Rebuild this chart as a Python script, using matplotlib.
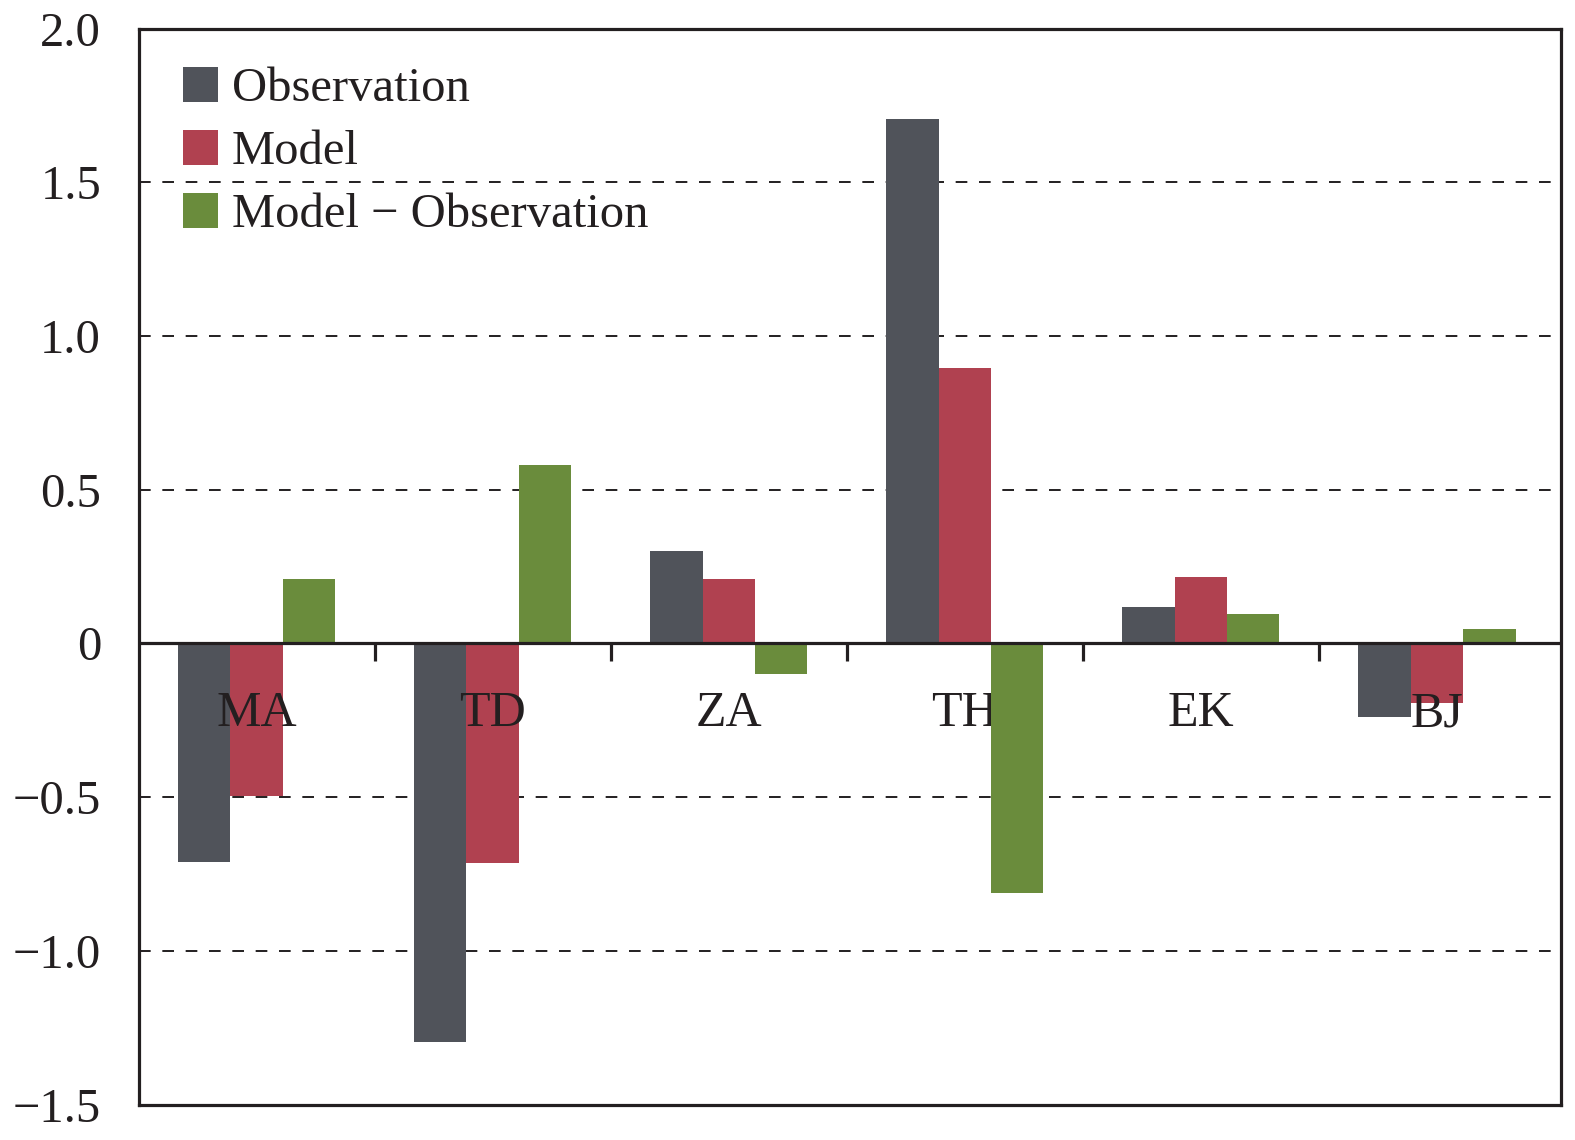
import numpy as np
import matplotlib
matplotlib.use("Agg")
import matplotlib.pyplot as plt

plt.rcParams['font.family'] = ['Liberation Serif', 'DejaVu Serif']

# 数据
sites = ['MA', 'TD', 'ZA', 'TH', 'EK', 'BJ']
observation = [-0.71, -1.295, 0.30, 1.705, 0.12, -0.24]
model = [-0.495, -0.715, 0.21, 0.895, 0.215, -0.195]
model_minus_obs = [0.21, 0.58, -0.098, -0.812, 0.097, 0.048]
yticks = [-1.5, -1.0, -0.5, 0, 0.5, 1.0, 1.5, 2.0]
ytick_labels = ['\u22121.5', '\u22121.0', '\u22120.5', '0', '0.5', '1.0', '1.5', '2.0']

c_obs = '#50535a'
c_mod = '#b04150'
c_dif = '#6a8c3c'

x = np.arange(len(sites))
w = 0.222

fig = plt.figure(figsize=(15.75, 11.4), dpi=100)
ax = fig.add_axes([0.088, 0.031, 0.903, 0.944])

ax.bar(x - w, observation, w, color=c_obs, label='Observation', zorder=2)
ax.bar(x, model, w, color=c_mod, label='Model', zorder=2)
ax.bar(x + w, model_minus_obs, w, color=c_dif, label='Model \u2212 Observation', zorder=3)

# 站点名称写在零线下方
for xi, s in zip(x, sites):
    ax.text(xi, -0.27, s, ha='center', va='baseline', fontsize=36, color='#231f20', zorder=2.5)

# 零线和分组刻度
ax.axhline(0, color='#231f20', lw=2.3, zorder=4)
ax.vlines(np.arange(0.5, len(sites) - 1), -0.056, 0, color='#231f20', lw=2.3, zorder=4)

# 虚线网格
for yv in [-1.0, -0.5, 0.5, 1.0, 1.5]:
    ax.axhline(yv, color='#231f20', lw=1.4, linestyle=(0, (6, 6)), zorder=1)

ax.set_xlim(-0.5, 5.525)
ax.set_ylim(-1.5, 2.0)
ax.set_xticks([])
ax.set_yticks(yticks)
ax.set_yticklabels(ytick_labels)
ax.tick_params(axis='y', length=0, pad=27, labelsize=35, labelcolor='#231f20')
for sp in ax.spines.values():
    sp.set_linewidth(2.3)
    sp.set_color('#231f20')

leg = ax.legend(loc='upper left', bbox_to_anchor=(0.0155, 0.985), frameon=False, fontsize=35,
                handlelength=0.72, handleheight=0.74, handletextpad=0.3, labelspacing=0.38,
                borderaxespad=0.05)
for t in leg.get_texts():
    t.set_color('#231f20')

plt.savefig("out.png", dpi=100)
